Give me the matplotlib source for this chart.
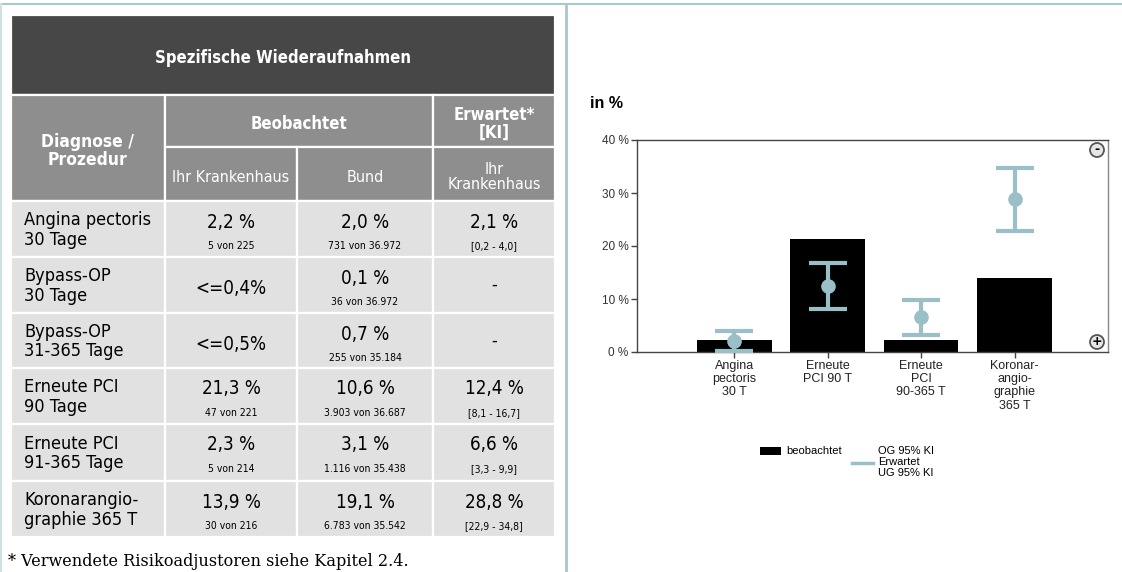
import matplotlib
matplotlib.use('Agg')
import matplotlib.pyplot as plt
from matplotlib.patches import Rectangle, Circle
from matplotlib.lines import Line2D

# table data
row_labels = ['Angina pectoris\n30 Tage', 'Bypass-OP\n30 Tage', 'Bypass-OP\n31-365 Tage',
              'Erneute PCI\n90 Tage', 'Erneute PCI\n91-365 Tage', 'Koronarangio-\ngraphie 365 T']
haus_pct = ['2,2 %', '<=0,4%', '<=0,5%', '21,3 %', '2,3 %', '13,9 %']
haus_n = ['5 von 225', '', '', '47 von 221', '5 von 214', '30 von 216']
bund_pct = ['2,0 %', '0,1 %', '0,7 %', '10,6 %', '3,1 %', '19,1 %']
bund_n = ['731 von 36.972', '36 von 36.972', '255 von 35.184', '3.903 von 36.687',
          '1.116 von 35.438', '6.783 von 35.542']
erw_pct = ['2,1 %', '-', '-', '12,4 %', '6,6 %', '28,8 %']
erw_ki = ['[0,2 - 4,0]', '', '', '[8,1 - 16,7]', '[3,3 - 9,9]', '[22,9 - 34,8]']

# chart data
categories = ['Angina\npectoris\n30 T', 'Erneute\nPCI 90 T', 'Erneute\nPCI\n90-365 T',
              'Koronar-\nangio-\ngraphie\n365 T']
observed = [2.2, 21.3, 2.3, 13.9]
expected = [2.1, 12.4, 6.6, 28.8]
ki_low = [0.2, 8.1, 3.3, 22.9]
ki_high = [4.0, 16.7, 9.9, 34.8]
yticks = [0, 10, 20, 30, 40]
legend_ki = ['OG 95% KI', 'Erwartet', 'UG 95% KI']

W, H = 1122, 572
fig = plt.figure(figsize=(W / 100, H / 100), dpi=100)
bg = fig.add_axes([0, 0, 1, 1])
bg.set_xlim(0, W)
bg.set_ylim(H, 0)
bg.axis('off')

teal = '#a8c8ce'
bg.add_line(Line2D([0, W], [3.5, 3.5], color=teal, lw=1.5))
bg.add_line(Line2D([1.5, 1.5], [3.5, H], color='#cfe0e3', lw=1.5))
bg.add_line(Line2D([566, 566], [3.5, H], color=teal, lw=2))

tfont = dict(family='DejaVu Sans', fontstretch='condensed')
dark = '#474747'
head = '#8e8e8e'
rowc = '#e1e1e1'

def box(x0, y0, x1, y1, c):
    bg.add_patch(Rectangle((x0, y0), x1 - x0, y1 - y0, facecolor=c, edgecolor='white', lw=1.6))

box(11, 15, 555, 95, dark)
bg.text(283, 58, 'Spezifische Wiederaufnahmen', color='white', fontsize=12,
        fontweight='bold', ha='center', va='center', **tfont)

cols = [11, 165, 297, 433, 555]
box(11, 95, 165, 201, head)
box(165, 95, 433, 147, head)
box(433, 95, 555, 147, head)
box(165, 147, 297, 201, head)
box(297, 147, 433, 201, head)
box(433, 147, 555, 201, head)
bg.text(88, 151, 'Diagnose /\nProzedur', color='white', fontsize=12.5, fontweight='bold',
        ha='center', va='center', linespacing=1.0, **tfont)
bg.text(299, 124, 'Beobachtet', color='white', fontsize=12, fontweight='bold',
        ha='center', va='center', **tfont)
bg.text(494, 124, 'Erwartet*\n[KI]', color='white', fontsize=12, fontweight='bold',
        ha='center', va='center', linespacing=0.95, **tfont)
bg.text(231, 178, 'Ihr Krankenhaus', color='white', fontsize=11.5, ha='center', va='center', **tfont)
bg.text(365, 178, 'Bund', color='white', fontsize=11.5, ha='center', va='center', **tfont)
bg.text(494, 177, 'Ihr\nKrankenhaus', color='white', fontsize=11.5, ha='center', va='center',
        linespacing=1.0, **tfont)

row_edges = [201, 257, 313, 368, 424, 481, 537]
centers = [231, 365, 494]
for i, lab in enumerate(row_labels):
    y0, y1 = row_edges[i], row_edges[i + 1]
    for c0, c1 in zip(cols[:-1], cols[1:]):
        box(c0, y0, c1, y1, rowc)
    bg.text(24, (y0 + y1) / 2 + 1, lab, color='black', fontsize=13, ha='left', va='center',
            linespacing=1.12, **tfont)
    for cx, pct, n in zip(centers, [haus_pct[i], bund_pct[i], erw_pct[i]],
                          [haus_n[i], bund_n[i], erw_ki[i]]):
        if n:
            bg.text(cx, y0 + 21, pct, fontsize=13.5, ha='center', va='center', **tfont)
            bg.text(cx, y0 + 45, n, fontsize=7.5, ha='center', va='center', **tfont)
        elif pct == '-':
            bg.text(cx, (y0 + y1) / 2, pct, fontsize=13, ha='center', va='center', **tfont)
        else:
            bg.text(cx, (y0 + y1) / 2 + 4, pct, fontsize=13.5, ha='center', va='center', **tfont)

bg.text(8, 561, '* Verwendete Risikoadjustoren siehe Kapitel 2.4.', fontsize=11.6,
        family='DejaVu Serif', ha='left', va='center')

# chart
cfont = 'Liberation Sans'
bg.text(590, 104, 'in %', fontsize=11.5, fontweight='bold', family=cfont, ha='left', va='center')
ax = fig.add_axes([637 / W, (H - 352) / H, (1108 - 637) / W, (352 - 140) / H])
x = list(range(len(categories)))
ax.bar(x, observed, width=0.8, color='black', zorder=2)
err = [[e - l for e, l in zip(expected, ki_low)], [h - e for e, h in zip(expected, ki_high)]]
ax.errorbar(x, expected, yerr=err, fmt='o', color='#9bbfc6', ms=9.5, elinewidth=3,
            capsize=13.5, capthick=3, zorder=3)
ax.set_xlim(-1.04, 4.0)
ax.set_ylim(0, 40)
ax.set_yticks(yticks)
ax.set_yticklabels([f'{v} %' for v in yticks], family=cfont, fontsize=8.5, color='#333333')
ax.set_xticks(x)
ax.set_xticklabels(categories, family=cfont, fontsize=9, color='#222222', linespacing=1.12,
                   va='top')
ax.tick_params(length=4, width=1, color='#444444', pad=2)
for s in ax.spines.values():
    s.set_color('#444444')
    s.set_linewidth(1)
ax.spines['right'].set_color('#888888')

# overlay for zoom icons and legend
ov = fig.add_axes([0, 0, 1, 1])
ov.set_xlim(0, W)
ov.set_ylim(H, 0)
ov.axis('off')
ov.patch.set_alpha(0)
for yy, sym in [(150, '-'), (342, '+')]:
    ov.add_patch(Circle((1097, yy), 7, facecolor='#e6e6e6', edgecolor='#555555', lw=1.3))
    ov.text(1097, yy - 0.5, sym, fontsize=9, fontweight='bold', ha='center', va='center')

ov.add_patch(Rectangle((760, 447), 21, 8, facecolor='black'))
ov.text(786, 451, 'beobachtet', fontsize=8, family=cfont, ha='left', va='center')
ov.add_line(Line2D([852, 873], [463, 463], color='#9bbfc6', lw=2.5))
for k, t in enumerate(legend_ki):
    ov.text(878, 451 + 11 * k, t, fontsize=8, family=cfont, ha='left', va='center')

fig.savefig('out.png', dpi=100)
